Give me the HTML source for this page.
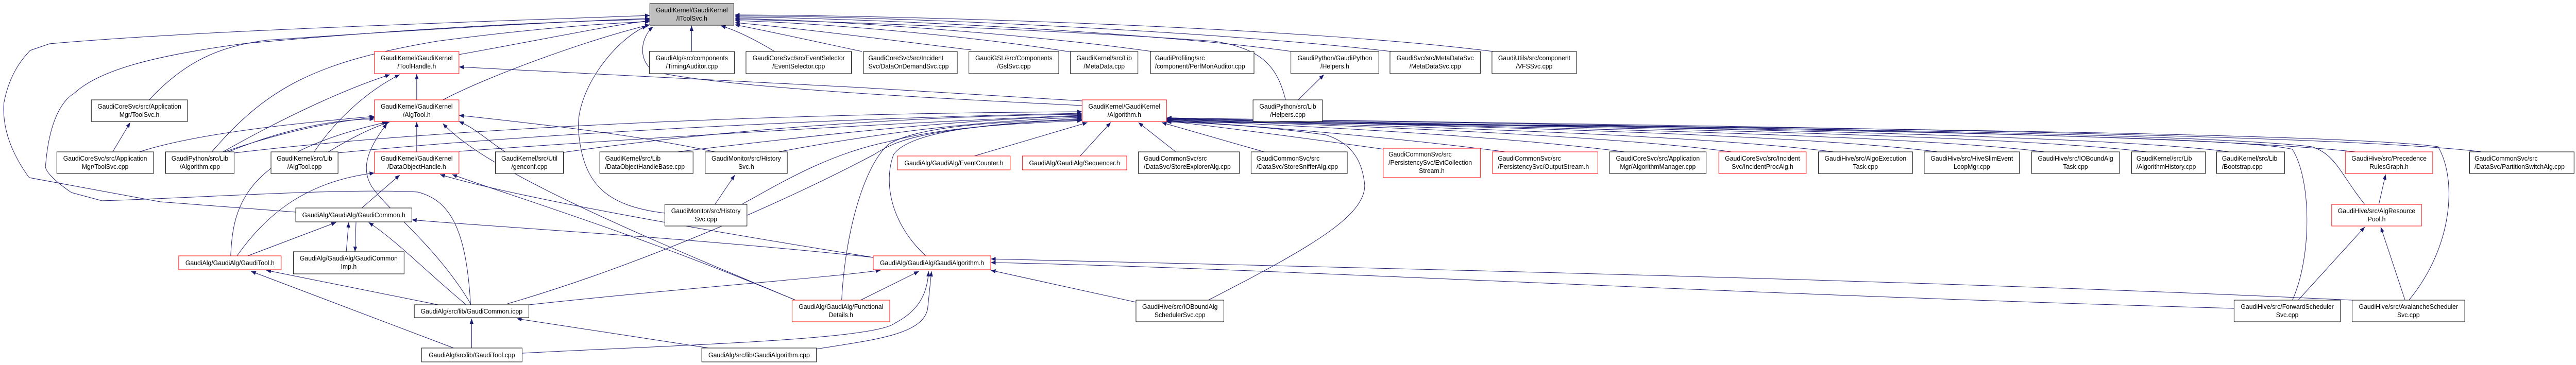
<!DOCTYPE html>
<html><head><meta charset="utf-8"><style>
html,body{margin:0;padding:0;background:#fff;width:100%;height:709px;overflow:hidden;}
svg{display:block;overflow:hidden;width:100vw;height:709px;}
text{font-family:"Liberation Sans",sans-serif;font-size:13px;fill:#000;}
.e{fill:none;stroke:#191970;stroke-width:1;}
.b{fill:#fff;stroke:#000;stroke-width:1;}
.r{fill:#fff;stroke:#ff0000;stroke-width:1;}
.g{fill:#bfbfbf;stroke:#000;stroke-width:1;}
</style></head><body>
<svg viewBox="0 0 5304 709" preserveAspectRatio="none" xmlns="http://www.w3.org/2000/svg">
<defs><marker id="a" markerWidth="10" markerHeight="8" refX="10" refY="4" orient="auto" markerUnits="userSpaceOnUse"><path d="M0,0 L10,4 L0,8z" fill="#191970"/></marker></defs>
<g class="e" marker-end="url(#a)">
<path d="M945,106 C1100,80 1250,50 1338,40"/>
<path d="M1424,100 L1424,50"/>
<path d="M1595,100 C1560,80 1520,60 1484,50"/>
<path d="M1775,100 C1700,85 1580,60 1513,48"/>
<path d="M2000,97 C1850,80 1650,55 1513,44"/>
<path d="M2205,101 C2000,70 1700,45 1513,40"/>
<path d="M2372,100 C2150,70 1750,40 1513,36"/>
<path d="M2660,100 C2400,65 1800,35 1513,33"/>
<path d="M2865,100 C2500,60 1800,30 1513,31"/>
<path d="M3075,100 C2700,55 1900,30 1513,29"/>
<path d="M2647,194 C2630,130 2600,95 2500,80 C2200,60 1700,40 1513,38"/>
<path d="M307,194 C380,120 450,90 550,78 C900,55 1200,40 1338,36"/>
<path d="M436,295 C550,170 650,120 900,80 C1100,55 1250,45 1338,42"/>
<path d="M609,412 L330,392 L60,345 C25,300 4,250 8,200 C20,140 50,110 62,98 L102,85 C400,60 900,45 1338,30"/>
<path d="M969,592 C960,450 930,390 860,373 C700,365 400,385 210,390 L147,374 C110,350 90,330 94,320 C100,250 120,200 153,181 C200,140 300,110 500,85 C900,50 1200,40 1338,38"/>
<path d="M912,194 C1000,150 1200,80 1338,48"/>
<path d="M1369,414 C1250,400 1200,360 1191,253 C1185,180 1260,80 1332,50"/>
<path d="M2228,205 C1900,190 1500,170 1350,140 C1310,120 1320,70 1345,52"/>
<path d="M858,194 L858,144"/>
<path d="M459,295 C600,220 720,170 803,145"/>
<path d="M647,295 C700,220 770,170 823,145"/>
<path d="M2228,196 C1800,170 1200,140 945,130"/>
<path d="M858,295 L858,237"/>
<path d="M287,295 C400,260 600,240 771,226"/>
<path d="M462,295 C600,250 700,235 771,228"/>
<path d="M470,295 C600,245 700,232 771,231"/>
<path d="M676,295 C720,270 760,250 802,237"/>
<path d="M475,497 C480,400 500,300 797,237"/>
<path d="M1472,295 C1300,260 1100,240 945,224"/>
<path d="M1040,295 C1000,270 980,250 945,236"/>
<path d="M969,590 C900,480 800,410 765,362 C745,330 752,294 797,240"/>
<path d="M1638,583 C1300,450 1000,330 912,240"/>
<path d="M745,404 L823,340"/>
<path d="M488,497 C560,400 650,350 771,336"/>
<path d="M1798,500 C1400,440 1050,380 906,339"/>
<path d="M1638,583 C1300,450 1050,380 931,339"/>
<path d="M510,497 L692,432"/>
<path d="M713,489 L718,432"/>
<path d="M733,432 L731,489"/>
<path d="M960,592 C880,530 820,470 759,432"/>
<path d="M1798,500 C1400,460 1000,440 848,427"/>
<path d="M902,592 L548,525"/>
<path d="M934,676 L517,527"/>
<path d="M971,676 L971,619"/>
<path d="M1459,676 L1064,619"/>
<path d="M1089,592 C1400,560 1700,540 1813,525"/>
<path d="M1075,686 C1400,670 1800,660 1842,628 C1900,600 1910,560 1912,527"/>
<path d="M1681,678 C1800,660 1900,650 1910,600 L1918,527"/>
<path d="M1772,583 L1892,527"/>
<path d="M2339,587 L2040,525"/>
<path d="M4600,599 C3500,570 2600,520 2040,510"/>
<path d="M4843,583 C4000,545 2800,520 2040,503"/>
<path d="M1045,590 C1300,520 1600,400 1800,300 C1850,270 1900,250 2228,230"/>
<path d="M1906,497 C1830,430 1820,350 1840,300 C1870,260 2000,240 2228,232"/>
<path d="M1733,583 C1740,450 1780,320 1830,280 C1900,240 2100,235 2228,233"/>
<path d="M1529,396 C1600,360 1700,300 1830,275 C1950,245 2100,240 2228,234"/>
<path d="M1160,296 C1500,250 1900,225 2228,222"/>
<path d="M1395,295 C1700,260 2000,230 2228,226"/>
<path d="M1603,295 C1800,260 2000,235 2228,228"/>
<path d="M945,294 C1300,270 1800,240 2228,224"/>
<path d="M696,297 C1100,260 1700,230 2228,220"/>
<path d="M483,297 C900,250 1600,220 2228,217"/>
<path d="M2006,303 L2239,238"/>
<path d="M2224,303 L2287,238"/>
<path d="M2421,295 L2344,238"/>
<path d="M2603,295 L2392,238"/>
<path d="M2850,290 C2700,270 2500,245 2402,235"/>
<path d="M3100,295 C2900,270 2600,245 2402,234"/>
<path d="M3345,295 C3100,265 2700,245 2402,233"/>
<path d="M3566,295 C3300,262 2800,245 2402,232"/>
<path d="M3775,295 C3500,262 2900,245 2402,232"/>
<path d="M3990,295 C3700,260 3000,245 2402,231"/>
<path d="M4210,295 C3900,258 3000,245 2402,231"/>
<path d="M4420,295 C4100,258 3100,245 2402,230"/>
<path d="M4590,295 C4300,258 3200,245 2402,230"/>
<path d="M4850,295 C4500,258 3300,243 2402,229"/>
<path d="M5110,295 C4800,258 3400,243 2402,229"/>
<path d="M4720,583 C4760,500 4760,350 4720,290 C4600,260 3300,245 2402,236"/>
<path d="M4960,583 C5050,480 5060,350 5020,285 C4800,255 3300,243 2402,237"/>
<path d="M4869,397 C4820,340 4810,300 4760,285 C4500,255 3300,244 2402,236"/>
<path d="M2488,583 C2700,480 2810,420 2810,360 C2806,320 2790,280 2730,262 C2600,245 2500,240 2402,236"/>
<path d="M232,295 L268,238"/>
<path d="M2673,194 L2726,145"/>
<path d="M1472,397 L1513,340"/>
<path d="M4732,583 L4869,441"/>
<path d="M4952,583 L4902,441"/>
<path d="M4898,397 L4912,339"/>
</g>
<g>
<rect class="g" x="1338" y="7" width="173" height="42"/><text x="1424.5" y="24" text-anchor="middle">GaudiKernel/GaudiKernel</text><text x="1424.5" y="40" text-anchor="middle">/IToolSvc.h</text>
<rect class="r" x="771" y="100" width="174" height="43"/><text x="858" y="117" text-anchor="middle">GaudiKernel/GaudiKernel</text><text x="858" y="133" text-anchor="middle">/ToolHandle.h</text>
<rect class="b" x="1337" y="100" width="175" height="43"/><text x="1424.5" y="117" text-anchor="middle">GaudiAlg/src/components</text><text x="1424.5" y="133" text-anchor="middle">/TimingAuditor.cpp</text>
<rect class="b" x="1536" y="100" width="217" height="43"/><text x="1644.5" y="117" text-anchor="middle">GaudiCoreSvc/src/EventSelector</text><text x="1644.5" y="133" text-anchor="middle">/EventSelector.cpp</text>
<rect class="b" x="1778" y="100" width="193" height="43"/><text x="1788" y="117">GaudiCoreSvc/src/Incident</text><text x="1788" y="133">Svc/DataOnDemandSvc.cpp</text>
<rect class="b" x="1995" y="100" width="185" height="43"/><text x="2087.5" y="117" text-anchor="middle">GaudiGSL/src/Components</text><text x="2087.5" y="133" text-anchor="middle">/GslSvc.cpp</text>
<rect class="b" x="2204" y="100" width="139" height="43"/><text x="2273.5" y="117" text-anchor="middle">GaudiKernel/src/Lib</text><text x="2273.5" y="133" text-anchor="middle">/MetaData.cpp</text>
<rect class="b" x="2369" y="100" width="213" height="43"/><text x="2378" y="117">GaudiProfiling/src</text><text x="2378" y="133">/component/PerfMonAuditor.cpp</text>
<rect class="b" x="2658" y="100" width="181" height="43"/><text x="2748.5" y="117" text-anchor="middle">GaudiPython/GaudiPython</text><text x="2748.5" y="133" text-anchor="middle">/Helpers.h</text>
<rect class="b" x="2862" y="100" width="186" height="43"/><text x="2955" y="117" text-anchor="middle">GaudiSvc/src/MetaDataSvc</text><text x="2955" y="133" text-anchor="middle">/MetaDataSvc.cpp</text>
<rect class="b" x="3072" y="100" width="174" height="43"/><text x="3159" y="117" text-anchor="middle">GaudiUtils/src/component</text><text x="3159" y="133" text-anchor="middle">/VFSSvc.cpp</text>
<rect class="b" x="188" y="194" width="198" height="42"/><text x="287" y="211" text-anchor="middle">GaudiCoreSvc/src/Application</text><text x="287" y="227" text-anchor="middle">Mgr/ToolSvc.h</text>
<rect class="r" x="771" y="194" width="174" height="42"/><text x="858" y="211" text-anchor="middle">GaudiKernel/GaudiKernel</text><text x="858" y="227" text-anchor="middle">/AlgTool.h</text>
<rect class="r" x="2228" y="194" width="174" height="42"/><text x="2315" y="211" text-anchor="middle">GaudiKernel/GaudiKernel</text><text x="2315" y="227" text-anchor="middle">/Algorithm.h</text>
<rect class="b" x="2580" y="194" width="143" height="42"/><text x="2651.5" y="211" text-anchor="middle">GaudiPython/src/Lib</text><text x="2651.5" y="227" text-anchor="middle">/Helpers.cpp</text>
<rect class="b" x="117" y="295" width="199" height="42"/><text x="216.5" y="312" text-anchor="middle">GaudiCoreSvc/src/Application</text><text x="216.5" y="328" text-anchor="middle">Mgr/ToolSvc.cpp</text>
<rect class="b" x="341" y="295" width="141" height="42"/><text x="411.5" y="312" text-anchor="middle">GaudiPython/src/Lib</text><text x="411.5" y="328" text-anchor="middle">/Algorithm.cpp</text>
<rect class="b" x="558" y="295" width="138" height="42"/><text x="627" y="312" text-anchor="middle">GaudiKernel/src/Lib</text><text x="627" y="328" text-anchor="middle">/AlgTool.cpp</text>
<rect class="r" x="771" y="295" width="174" height="42"/><text x="858" y="312" text-anchor="middle">GaudiKernel/GaudiKernel</text><text x="858" y="328" text-anchor="middle">/DataObjectHandle.h</text>
<rect class="b" x="1020" y="295" width="140" height="42"/><text x="1090" y="312" text-anchor="middle">GaudiKernel/src/Util</text><text x="1090" y="328" text-anchor="middle">/genconf.cpp</text>
<rect class="b" x="1235" y="295" width="192" height="42"/><text x="1246" y="312">GaudiKernel/src/Lib</text><text x="1246" y="328">/DataObjectHandleBase.cpp</text>
<rect class="b" x="1452" y="295" width="169" height="42"/><text x="1536.5" y="312" text-anchor="middle">GaudiMonitor/src/History</text><text x="1536.5" y="328" text-anchor="middle">Svc.h</text>
<rect class="r" x="1848" y="303" width="232" height="27"/><text x="1964" y="321" text-anchor="middle">GaudiAlg/GaudiAlg/EventCounter.h</text>
<rect class="r" x="2105" y="303" width="215" height="27"/><text x="2212.5" y="321" text-anchor="middle">GaudiAlg/GaudiAlg/Sequencer.h</text>
<rect class="b" x="2344" y="295" width="208" height="42"/><text x="2355" y="312">GaudiCommonSvc/src</text><text x="2355" y="328">/DataSvc/StoreExplorerAlg.cpp</text>
<rect class="b" x="2576" y="295" width="198" height="42"/><text x="2587" y="312">GaudiCommonSvc/src</text><text x="2587" y="328">/DataSvc/StoreSnifferAlg.cpp</text>
<rect class="r" x="2848" y="288" width="200" height="57"/><text x="2859" y="304">GaudiCommonSvc/src</text><text x="2859" y="320">/PersistencySvc/EvtCollection</text><text x="2948" y="336" text-anchor="middle">Stream.h</text>
<rect class="r" x="3073" y="295" width="217" height="42"/><text x="3084" y="312">GaudiCommonSvc/src</text><text x="3084" y="328">/PersistencySvc/OutputStream.h</text>
<rect class="b" x="3314" y="295" width="199" height="42"/><text x="3413.5" y="312" text-anchor="middle">GaudiCoreSvc/src/Application</text><text x="3413.5" y="328" text-anchor="middle">Mgr/AlgorithmManager.cpp</text>
<rect class="r" x="3539" y="295" width="180" height="42"/><text x="3629" y="312" text-anchor="middle">GaudiCoreSvc/src/Incident</text><text x="3629" y="328" text-anchor="middle">Svc/IncidentProcAlg.h</text>
<rect class="b" x="3744" y="295" width="194" height="42"/><text x="3841" y="312" text-anchor="middle">GaudiHive/src/AlgoExecution</text><text x="3841" y="328" text-anchor="middle">Task.cpp</text>
<rect class="b" x="3962" y="295" width="196" height="42"/><text x="4060" y="312" text-anchor="middle">GaudiHive/src/HiveSlimEvent</text><text x="4060" y="328" text-anchor="middle">LoopMgr.cpp</text>
<rect class="b" x="4183" y="295" width="181" height="42"/><text x="4273.5" y="312" text-anchor="middle">GaudiHive/src/IOBoundAlg</text><text x="4273.5" y="328" text-anchor="middle">Task.cpp</text>
<rect class="b" x="4389" y="295" width="152" height="42"/><text x="4399" y="312">GaudiKernel/src/Lib</text><text x="4399" y="328">/AlgorithmHistory.cpp</text>
<rect class="b" x="4564" y="295" width="140" height="42"/><text x="4575" y="312">GaudiKernel/src/Lib</text><text x="4575" y="328">/Bootstrap.cpp</text>
<rect class="r" x="4829" y="295" width="180" height="42"/><text x="4919" y="312" text-anchor="middle">GaudiHive/src/Precedence</text><text x="4919" y="328" text-anchor="middle">RulesGraph.h</text>
<rect class="b" x="5085" y="295" width="215" height="42"/><text x="5095" y="312">GaudiCommonSvc/src</text><text x="5095" y="328">/DataSvc/PartitionSwitchAlg.cpp</text>
<rect class="b" x="609" y="404" width="239" height="27"/><text x="728.5" y="422" text-anchor="middle">GaudiAlg/GaudiAlg/GaudiCommon.h</text>
<rect class="b" x="1369" y="397" width="169" height="42"/><text x="1453.5" y="414" text-anchor="middle">GaudiMonitor/src/History</text><text x="1453.5" y="430" text-anchor="middle">Svc.cpp</text>
<rect class="r" x="4801" y="397" width="185" height="42"/><text x="4893.5" y="414" text-anchor="middle">GaudiHive/src/AlgResource</text><text x="4893.5" y="430" text-anchor="middle">Pool.h</text>
<rect class="r" x="368" y="497" width="211" height="27"/><text x="473.5" y="515" text-anchor="middle">GaudiAlg/GaudiAlg/GaudiTool.h</text>
<rect class="b" x="604" y="489" width="228" height="43"/><text x="718" y="506" text-anchor="middle">GaudiAlg/GaudiAlg/GaudiCommon</text><text x="718" y="522" text-anchor="middle">Imp.h</text>
<rect class="r" x="1798" y="497" width="242" height="27"/><text x="1919" y="515" text-anchor="middle">GaudiAlg/GaudiAlg/GaudiAlgorithm.h</text>
<rect class="b" x="853" y="592" width="236" height="25"/><text x="971" y="609" text-anchor="middle">GaudiAlg/src/lib/GaudiCommon.icpp</text>
<rect class="r" x="1631" y="583" width="201" height="42"/><text x="1731.5" y="600" text-anchor="middle">GaudiAlg/GaudiAlg/Functional</text><text x="1731.5" y="616" text-anchor="middle">Details.h</text>
<rect class="b" x="2339" y="583" width="181" height="42"/><text x="2429.5" y="600" text-anchor="middle">GaudiHive/src/IOBoundAlg</text><text x="2429.5" y="616" text-anchor="middle">SchedulerSvc.cpp</text>
<rect class="b" x="4600" y="583" width="219" height="42"/><text x="4709.5" y="600" text-anchor="middle">GaudiHive/src/ForwardScheduler</text><text x="4709.5" y="616" text-anchor="middle">Svc.cpp</text>
<rect class="b" x="4843" y="583" width="232" height="42"/><text x="4959" y="600" text-anchor="middle">GaudiHive/src/AvalancheScheduler</text><text x="4959" y="616" text-anchor="middle">Svc.cpp</text>
<rect class="b" x="868" y="676" width="207" height="27"/><text x="971.5" y="694" text-anchor="middle">GaudiAlg/src/lib/GaudiTool.cpp</text>
<rect class="b" x="1445" y="676" width="236" height="27"/><text x="1563" y="694" text-anchor="middle">GaudiAlg/src/lib/GaudiAlgorithm.cpp</text>
</g>
</svg>
</body></html>
